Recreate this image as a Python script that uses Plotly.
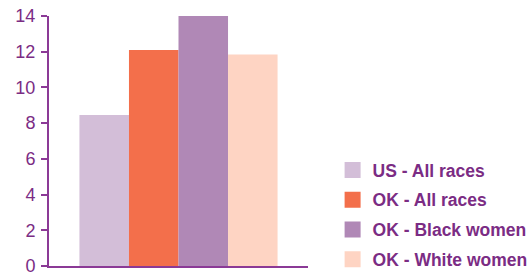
import plotly.graph_objects as go

series_names = ["US - All races", "OK - All races", "OK - Black women", "OK - White women"]
series_values = [8.45, 12.1, 14.0, 11.85]
series_colors = ["#D3BED8", "#F36F4B", "#B088B6", "#FED4C3"]
category = ["All"]
y_ticks = [0, 2, 4, 6, 8, 10, 12, 14]

text_color = "#7B2C84"
axis_color = "#8B3A96"

fig = go.Figure()
for name, val, col in zip(series_names, series_values, series_colors):
    fig.add_trace(go.Bar(x=category, y=[val], name=name, marker_color=col,
                         marker_line_width=0, showlegend=False))
for i, (name, col) in enumerate(zip(series_names, series_colors)):
    fig.add_trace(go.Scatter(x=[None], y=[None], mode="markers", name=name,
                             legendgroup=str(i),
                             marker=dict(symbol="square", size=16, color=col),
                             showlegend=True))

fig.update_layout(
    width=528, height=273,
    margin=dict(l=49, r=220, t=16, b=7, autoexpand=False),
    paper_bgcolor="white", plot_bgcolor="white",
    barmode="group", bargap=0.235, bargroupgap=0,
    font=dict(family="Liberation Sans, Arial, sans-serif", color=text_color),
    showlegend=True,
    legend=dict(x=1.095, xanchor="left", y=-0.044, yanchor="bottom",
                traceorder="grouped", tracegroupgap=4,
                font=dict(size=17.5, color=text_color, family="Liberation Sans, Arial, sans-serif",
                          weight="bold"),
                bgcolor="rgba(0,0,0,0)"),
)
fig.update_xaxes(showticklabels=False, showline=True, linecolor=axis_color, linewidth=2,
                 ticks="", showgrid=False, zeroline=False, fixedrange=True)
fig.update_yaxes(range=[0, 14], tickvals=y_ticks, showline=True, linecolor=axis_color,
                 linewidth=2, ticks="outside", ticklen=6, tickcolor=axis_color, tickwidth=2,
                 showgrid=False, zeroline=False, tickfont=dict(size=18, color=text_color),
                 ticklabelstandoff=2, ticklabeloverflow="allow")

fig.write_html("out.html", config={"displayModeBar": False},
               post_script="document.body.style.margin='0';document.body.style.overflow='hidden';")
